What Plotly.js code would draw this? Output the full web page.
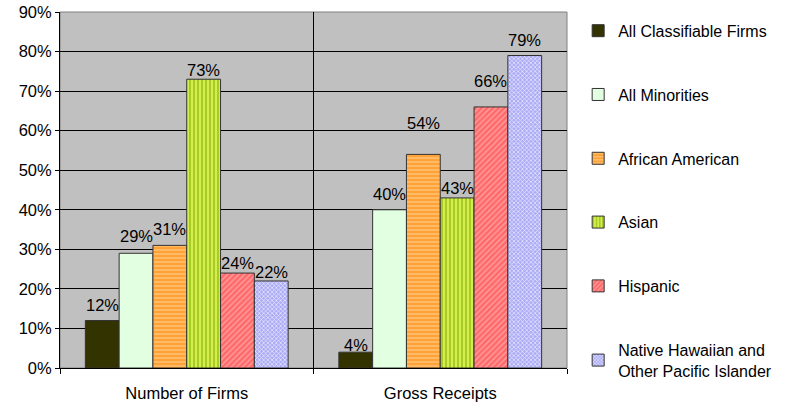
<!DOCTYPE html>
<html>
<head>
<meta charset="utf-8">
<script src="https://cdn.plot.ly/plotly-3.0.1.min.js"></script>
<style>html,body{margin:0;padding:0;background:#fff;}#chart{width:788px;height:406px;}</style>
</head>
<body>
<div id="chart"></div>
<script>
var categories = ["Number of Firms", "Gross Receipts"];
var seriesNames = ["All Classifiable Firms", "All Minorities", "African American", "Asian", "Hispanic", "Native Hawaiian and<br>Other Pacific Islander"];
var allClassifiable = [0.12, 0.04];
var allMinorities = [0.29, 0.40];
var africanAmerican = [0.31, 0.54];
var asian = [0.73, 0.43];
var hispanic = [0.24, 0.66];
var nativeHawaiian = [0.22, 0.79];
var seriesValues = [allClassifiable, allMinorities, africanAmerican, asian, hispanic, nativeHawaiian];
var yTickVals = [0, 0.1, 0.2, 0.3, 0.4, 0.5, 0.6, 0.7, 0.8, 0.9];

// label offsets (px above bar top), style only
var labelShift = [[16, 7], [17, 16], [16, 31], [9, 10], [10, 26], [9, 16]];

var styles = [
  {color: "#333300", pattern: null},
  {color: "#E2FFE2", pattern: null},
  {color: "#FFA238", pattern: {shape: "-", fgcolor: "#FFC57A", bgcolor: "#FFA238", size: 4, solidity: 0.35}},
  {color: "#C8E63C", pattern: {shape: "|", fgcolor: "#9EC21A", bgcolor: "#D4EE50", size: 4, solidity: 0.4}},
  {color: "#FF6E6E", pattern: {shape: "/", fgcolor: "#FF9A9A", bgcolor: "#FF6868", size: 4, solidity: 0.4}},
  {color: "#BCBCFF", pattern: {shape: "x", fgcolor: "#EEEEFF", bgcolor: "#ABABF6", size: 3, solidity: 0.4}}
];

var FS = 16.5;
var traces = [];
var annotations = [];
var bargap = 0.2;
var n = seriesNames.length;
var bw = (1 - bargap) / n;
for (var i = 0; i < n; i++) {
  var m = {color: styles[i].color, line: {color: "#333333", width: 1}};
  if (styles[i].pattern) m.pattern = styles[i].pattern;
  traces.push({
    type: "bar",
    name: seriesNames[i],
    x: categories,
    y: seriesValues[i],
    marker: m,
    legendgroup: "g" + i,
    hoverinfo: "none"
  });
  for (var j = 0; j < categories.length; j++) {
    annotations.push({
      x: j - (1 - bargap) / 2 + (i + 0.5) * bw,
      y: seriesValues[i][j],
      xref: "x", yref: "y",
      text: Math.round(seriesValues[i][j] * 100) + "%",
      showarrow: false,
      yanchor: "middle",
      yshift: labelShift[i][j],
      font: {family: "Liberation Sans, Arial, sans-serif", size: FS, color: "#000"}
    });
  }
}

var layout = {
  width: 788, height: 406,
  margin: {l: 60, r: 220, t: 12, b: 38},
  paper_bgcolor: "#ffffff",
  plot_bgcolor: "#C0C0C0",
  font: {family: "Liberation Sans, Arial, sans-serif", size: FS, color: "#000"},
  barmode: "group",
  bargap: bargap,
  bargroupgap: 0,
  showlegend: true,
  legend: {
    x: 1.02, xanchor: "left", xref: "paper",
    y: 0.995, yanchor: "top",
    traceorder: "grouped",
    tracegroupgap: 40,
    maxheight: 400,
    bgcolor: "rgba(0,0,0,0)",
    font: {size: 16},
    itemclick: false
  },
  xaxis: {
    type: "category",
    tickson: "boundaries",
    ticks: "outside", ticklen: 5, tickcolor: "#000",
    ticklabelstandoff: 10,
    showgrid: true, gridcolor: "#000", gridwidth: 1,
    showline: true, linecolor: "#000", linewidth: 1,
    zeroline: false,
    fixedrange: true
  },
  yaxis: {
    range: [0, 0.9],
    tickvals: yTickVals,
    tickformat: ".0%",
    ticks: "outside", ticklen: 4, tickcolor: "#000",
    showgrid: true, gridcolor: "#000", gridwidth: 1,
    showline: true, linecolor: "#000", linewidth: 1,
    zeroline: false,
    fixedrange: true
  },
  shapes: [{
    type: "rect", xref: "paper", yref: "paper", x0: 0, x1: 1, y0: 0, y1: 1,
    line: {color: "#808080", width: 1}, fillcolor: "rgba(0,0,0,0)", layer: "below"
  }],
  annotations: annotations
};

Plotly.newPlot("chart", traces, layout, {displayModeBar: false, staticPlot: true});
</script>
</body>
</html>
